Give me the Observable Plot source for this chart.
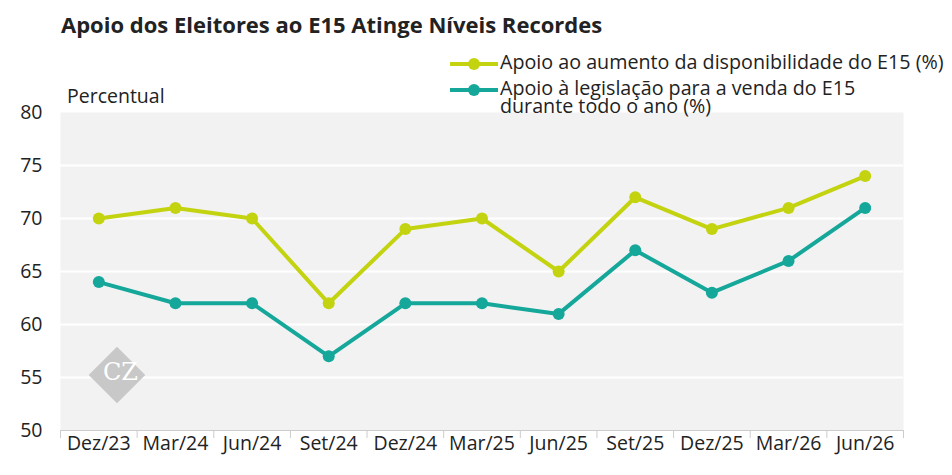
<!DOCTYPE html>
<html><head><meta charset="utf-8">
<script src="https://cdn.jsdelivr.net/npm/d3@7"></script>
<script src="https://cdn.jsdelivr.net/npm/@observablehq/plot@0.6"></script>
<style>
body{margin:0;font-family:"Open Sans",sans-serif;background:#fff;}
#wrap{position:relative;width:952px;height:475px;}
.t{position:absolute;white-space:nowrap;color:#222;}
</style></head><body>
<div id="wrap">
<div class="t" style="left:61px;top:9px;font-size:22px;font-weight:700;">Apoio dos Eleitores ao E15 Atinge Níveis Recordes</div>
<div class="t" style="left:67px;top:82px;font-size:19.5px;">Percentual</div>
<div id="leg" class="t" style="left:448px;top:53px;font-size:19.7px;line-height:18px;"></div>
<div style="position:absolute;left:97px;top:355px;width:40px;height:40px;background:#c8c8c8;transform:rotate(45deg);"></div>
<div class="t" style="left:103px;top:358px;font-size:24px;color:#fff;font-family:'DejaVu Serif',serif;">CZ</div>
</div>
<script>
const categories=["Dez/23","Mar/24","Jun/24","Set/24","Dez/24","Mar/25","Jun/25","Set/25","Dez/25","Mar/26","Jun/26"];
const apoioAumento=[70,71,70,62,69,70,65,72,69,71,74];
const apoioLegislacao=[64,62,62,57,62,62,61,67,63,66,71];
const yTicks=[50,55,60,65,70,75,80];
const seriesNames=["Apoio ao aumento da disponibilidade do E15 (%)","Apoio à legislação para a venda do E15\ndurante todo o ano (%)"];
const colors=["#c3d30f","#14a79a"];
const data=[];
categories.forEach((c,i)=>{data.push({i,v:apoioAumento[i],s:seriesNames[0]});data.push({i,v:apoioLegislacao[i],s:seriesNames[1]});});
const seps=d3.range(categories.length+1).map(i=>i-0.5);
const plot=Plot.plot({
  width:952,height:475,marginTop:112,marginBottom:45,marginLeft:60,marginRight:49,
  style:{fontFamily:"Open Sans",fontSize:"20px",color:"#222",overflow:"visible"},
  x:{domain:[-0.5,categories.length-0.5],label:null},
  y:{domain:[50,80],label:null},
  color:{domain:seriesNames,range:colors},
  marks:[
    Plot.frame({fill:"#f2f2f2",stroke:null}),
    Plot.ruleY(yTicks.filter(t=>t>50&&t<80),{stroke:"#fff",strokeWidth:2}),
    Plot.ruleY([50],{stroke:"#ccc"}),
    Plot.axisX(seps,{tickSize:8,tickFormat:()=>"",stroke:"#ccc"}),
    Plot.axisX(d3.range(categories.length),{tickSize:0,tickPadding:6,tickFormat:i=>categories[i],fontSize:19.5,label:null}),
    Plot.axisY(yTicks,{tickSize:0,tickPadding:18,fontSize:19.5,label:null}),
    Plot.line(data,{x:"i",y:"v",stroke:"s",z:"s",strokeWidth:4}),
    Plot.dot(data,{x:"i",y:"v",fill:"s",r:6})
  ]
});
document.getElementById("wrap").prepend(plot);
plot.style.position="absolute";plot.style.left="0";plot.style.top="0";
document.getElementById("leg").innerHTML=seriesNames.map((n,k)=>`<div style="display:flex;align-items:flex-start;margin-bottom:${k==0?8:0}px"><svg width="52" height="18" style="flex:none"><line x1="2" x2="50" y1="11" y2="11" stroke="${colors[k]}" stroke-width="4"/><circle cx="26" cy="11" r="6" fill="${colors[k]}"/></svg><span style="white-space:pre">${n}</span></div>`).join("");
</script></body></html>
